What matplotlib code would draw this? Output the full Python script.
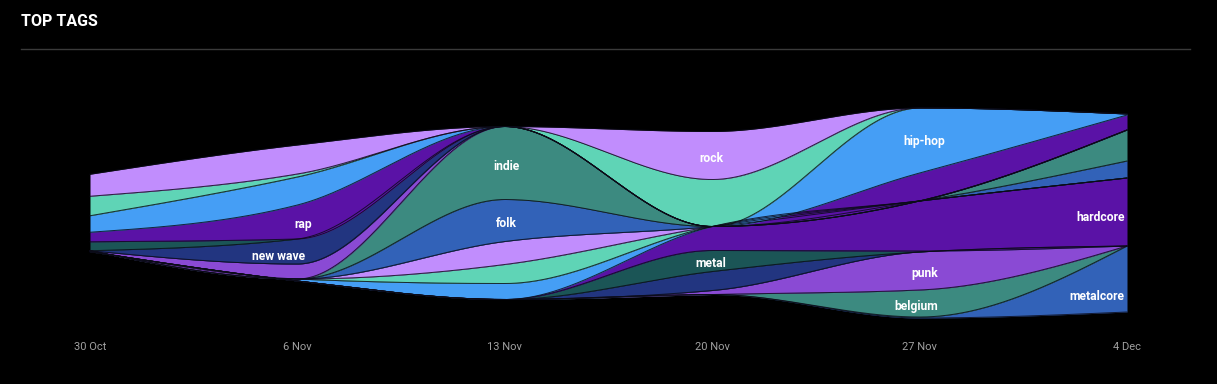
import numpy as np
import matplotlib.pyplot as plt
from matplotlib.lines import Line2D

# weekly points on the x axis
dates = ["30 Oct", "6 Nov", "13 Nov", "20 Nov", "27 Nov", "4 Dec"]

# tags from the top of the stream to the bottom ("" = band drawn without a label)
tags = ["rock", "", "hip-hop", "rap", "", "new wave", "", "indie", "folk",
        "", "", "", "hardcore", "metal", "", "punk", "belgium", "metalcore"]

# tag weight per week, same order as tags
oct30 = [22, 19.5, 16.5, 9.5, 9, 0, 0, 0, 0, 0, 0, 1, 0, 0, 0, 0, 0, 0]
nov06 = [29, 3, 28, 34, 0, 25, 15, 0, 0, 0, 0, 2, 0, 0, 0, 0, 0, 0]
nov13 = [0, 0, 0, 0, 0, 0, 0, 73, 42, 23, 19, 16, 0, 0, 0, 0, 0, 0]
nov20 = [48, 47, 0, 0, 0, 0, 0, 0, 0, 0, 0, 0, 24, 21, 19, 4, 0, 0]
nov27 = [0, 0, 65, 28, 0, 0, 0, 0, 0, 0, 0, 0, 50, 1, 0, 38, 27, 1]
dec04 = [0, 0, 1, 15, 0, 0, 0, 31, 17, 0, 0, 0, 68, 0, 0, 0, 0, 66]

palette = ["#c18dfd", "#5fd4b6", "#459ef5", "#5a12a6", "#1b5556",
           "#223580", "#8a4ad4", "#3c8a80", "#3262b8"]


def monotone(xp, yp, xs):
    # cubic hermite with monotone slopes (like d3 curveMonotoneX)
    xp = np.asarray(xp, float)
    yp = np.asarray(yp, float)
    h = np.diff(xp)
    s = np.diff(yp) / h
    t = np.zeros(len(xp))
    for i in range(1, len(xp) - 1):
        p = (s[i - 1] * h[i] + s[i] * h[i - 1]) / (h[i - 1] + h[i])
        t[i] = (np.sign(s[i - 1]) + np.sign(s[i])) * min(abs(s[i - 1]), abs(s[i]), 0.5 * abs(p))
    t[0] = (3 * s[0] - t[1]) / 2
    t[-1] = (3 * s[-1] - t[-2]) / 2
    idx = np.clip(np.searchsorted(xp, xs, side="right") - 1, 0, len(xp) - 2)
    u = (xs - xp[idx]) / h[idx]
    h00 = 2 * u**3 - 3 * u**2 + 1
    h10 = u**3 - 2 * u**2 + u
    h01 = -2 * u**3 + 3 * u**2
    h11 = u**3 - u**2
    return (h00 * yp[idx] + h10 * h[idx] * t[idx]
            + h01 * yp[idx + 1] + h11 * h[idx] * t[idx + 1])


values = np.array([oct30, nov06, nov13, nov20, nov27, dec04], float).T  # tags x weeks
x = np.arange(len(dates))
totals = values.sum(axis=0)

# silhouette offset: stream centred on zero, stacked from the bottom tag up
bottom_first = values[::-1]
y1 = np.cumsum(bottom_first, axis=0) - totals / 2
y0 = y1 - bottom_first
edges = np.vstack([y0[:1], y1])  # all boundaries, bottom to top

xs = np.linspace(0, len(dates) - 1, 1400)
edges_s = np.array([monotone(x, e, xs) for e in edges])

fig = plt.figure(figsize=(12.17, 3.84), dpi=100, facecolor="black")
ax = fig.add_axes([90 / 1217, 66 / 384, 1037 / 1217, 210 / 384])
ax.set_facecolor("black")

n = len(tags)
for j in range(n):
    i = n - 1 - j  # index in tags
    ax.fill_between(xs, edges_s[j], edges_s[j + 1], color=palette[i % len(palette)],
                    lw=0, clip_on=False)
for e in edges_s:
    ax.plot(xs, e, color="#0b0b18", lw=0.7, alpha=0.85, clip_on=False)

half = totals.max() / 2
ax.set_xlim(0, len(dates) - 1)
ax.set_ylim(-half, half)
for sp in ax.spines.values():
    sp.set_visible(False)
ax.set_yticks([])
ax.set_xticks(x, dates)
ax.tick_params(axis="x", length=0, pad=17, labelcolor="#a0a0a0", labelsize=8)
for lab in ax.get_xticklabels():
    lab.set_family(["Roboto", "DejaVu Sans"])

# labels: put each where the text box fits best inside its band
fig.canvas.draw()
renderer = fig.canvas.get_renderer()
px_per_x = ax.transData.transform((1, 0))[0] - ax.transData.transform((0, 0))[0]
for j in range(n):
    name = tags[n - 1 - j]
    if not name:
        continue
    txt = ax.text(0, 0, name, color="white", fontsize=8.7, fontweight="bold",
                  family=["Roboto", "DejaVu Sans"], ha="center", va="center")
    w = txt.get_window_extent(renderer).width / px_per_x + 0.02
    lo, hi = edges_s[j], edges_s[j + 1]
    best = None
    for c in range(len(xs)):
        a, b = xs[c] - w / 2, xs[c] + w / 2
        if a < 0 or b > xs[-1]:
            continue
        m = (xs >= a) & (xs <= b)
        low = lo[m].max()
        up = hi[m].min()
        if best is None or up - low > best[0]:
            best = (up - low, xs[c], (up + low) / 2)
    # text sits a little under the middle of the free box
    txt.set_position((best[1], best[2] - 3))

fig.text(21 / 1217, 1 - 22 / 384, "TOP TAGS", color="white", fontsize=11.5,
         fontweight="bold", family=["Roboto", "DejaVu Sans"],
         va="center", ha="left")
fig.add_artist(Line2D([21 / 1217, 1190 / 1217], [1 - 49 / 384, 1 - 49 / 384],
                      color="#3a3a3a", lw=1))

fig.savefig("out.png", dpi=100, facecolor="black")
